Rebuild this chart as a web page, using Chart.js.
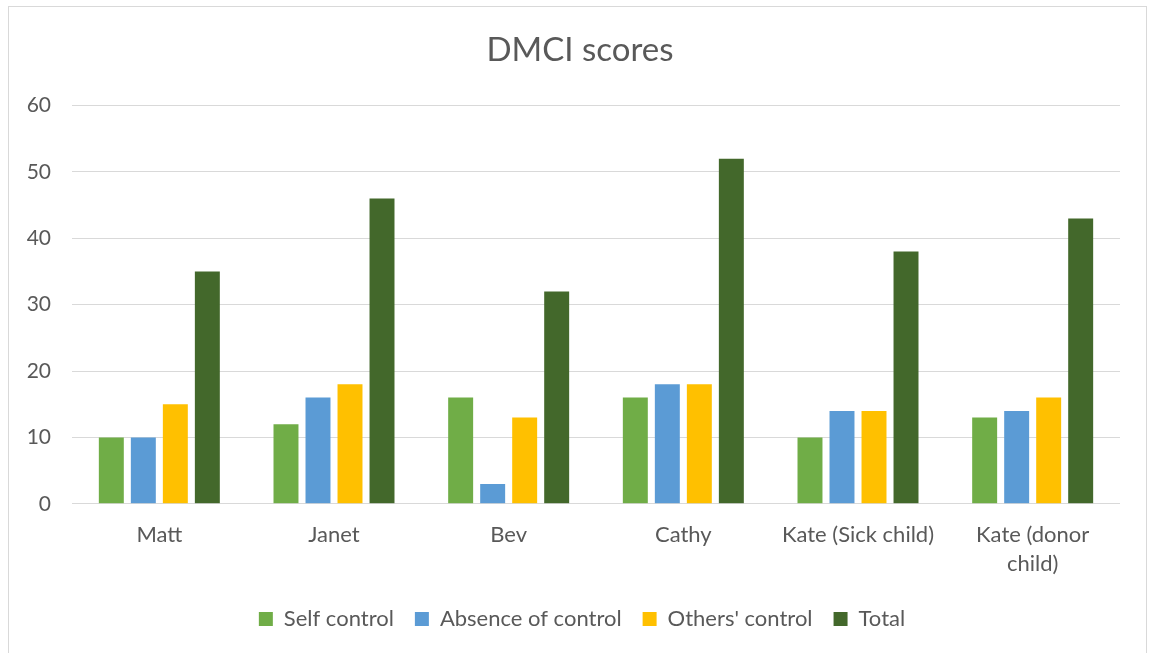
<!DOCTYPE html>
<html>
<head>
<meta charset="utf-8">
<script src="https://cdn.jsdelivr.net/npm/chart.js@4"></script>
<style>
html,body{margin:0;padding:0;background:#fff;overflow:hidden;}
#frame{position:absolute;left:8px;top:6px;width:1139px;height:660px;border:1px solid #d9d9d9;box-sizing:border-box;}
#wrap{position:absolute;left:0;top:0;width:1149px;height:653px;}
</style>
</head>
<body>
<div id="frame"></div>
<div id="wrap"><canvas id="c" width="1149" height="653"></canvas></div>
<script>
const categories = ["Matt", "Janet", "Bev", "Cathy", "Kate (Sick child)", ["Kate (donor", "child)"]];
const selfControl = [10, 12, 16, 16, 10, 13];
const absenceOfControl = [10, 16, 3, 18, 14, 14];
const othersControl = [15, 18, 13, 18, 14, 16];
const total = [35, 46, 32, 52, 38, 43];
const seriesNames = ["Self control", "Absence of control", "Others' control", "Total"];
const seriesColors = ["#70AD47", "#5B9BD5", "#FFC000", "#43682B"];
const yTicks = [0, 10, 20, 30, 40, 50, 60];

const FONT = "Lato, 'Open Sans', sans-serif";
const TXT = "#595959";
const series = [selfControl, absenceOfControl, othersControl, total];

// centre title and legend on the whole frame rather than the padded area
const recentre = {
  id: 'recentre',
  afterLayout(chart) {
    const shift = 20;
    if (chart.titleBlock) { chart.titleBlock.left += shift; chart.titleBlock.right += shift; }
    if (chart.legend) { chart.legend.left += shift + 2; chart.legend.right += shift + 2; }
  }
};

new Chart(document.getElementById('c'), {
  type: 'bar',
  data: {
    labels: categories,
    datasets: series.map((d, i) => ({
      label: seriesNames[i],
      data: d,
      backgroundColor: seriesColors[i],
      borderWidth: 0,
      categoryPercentage: 0.733,
      barPercentage: 0.78
    }))
  },
  plugins: [recentre],
  options: {
    responsive: false,
    animation: false,
    layout: { padding: { left: 0, right: 29, top: 0, bottom: 13 } },
    plugins: {
      title: {
        display: true,
        text: "DMCI scores",
        color: TXT,
        font: { family: FONT, size: 33, weight: 'normal' },
        padding: { top: 31, bottom: 35 }
      },
      legend: {
        position: 'bottom',
        labels: {
          color: TXT,
          font: { family: FONT, size: 22 },
          boxWidth: 14,
          boxHeight: 14,
          padding: 21
        }
      },
      tooltip: { enabled: false }
    },
    scales: {
      x: {
        grid: { display: false },
        border: { display: false },
        ticks: {
          color: TXT,
          font: { family: FONT, size: 22, lineHeight: 1.3 },
          maxRotation: 0,
          autoSkip: false,
          padding: 9
        }
      },
      y: {
        min: 0,
        max: 60,
        afterFit: (s) => { s.width = 72; },
        afterBuildTicks: (s) => { s.ticks = yTicks.map(v => ({ value: v })); },
        grid: { color: "#d9d9d9", lineWidth: 1, drawTicks: false },
        border: { display: false },
        ticks: {
          color: TXT,
          font: { family: FONT, size: 21 },
          padding: 21
        }
      }
    }
  }
});
</script>
</body>
</html>
